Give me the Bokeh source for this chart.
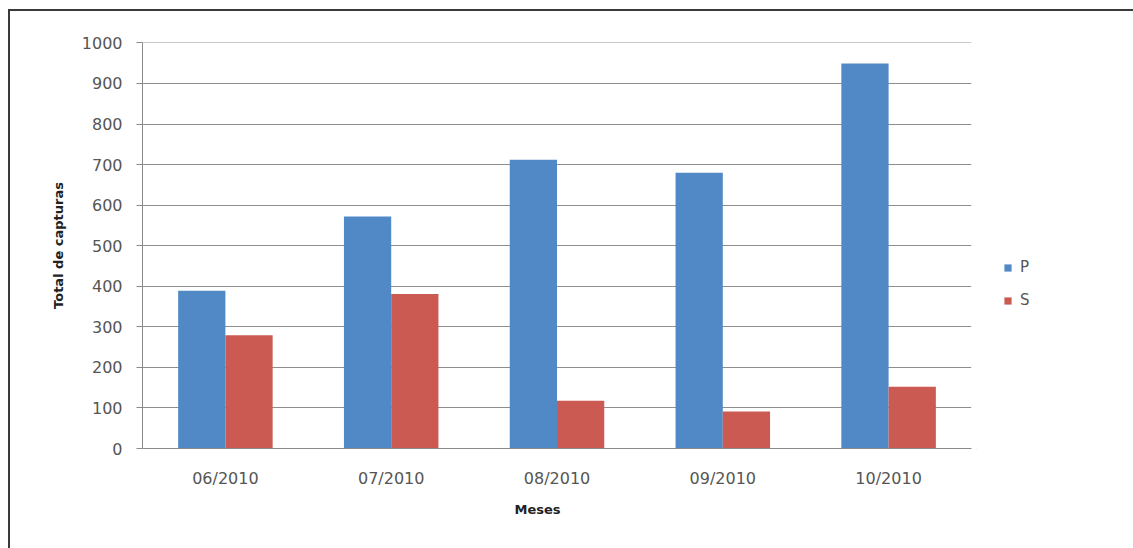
from bokeh.plotting import figure
from bokeh.layouts import row
from bokeh.models import (ColumnDataSource, FactorRange, Range1d, Legend, LegendItem,
                          SingleIntervalTicker, Title)
from bokeh.transform import dodge
from bokeh.embed import file_html
from bokeh.resources import INLINE

# Monthly capture totals
meses = ["06/2010", "07/2010", "08/2010", "09/2010", "10/2010"]
serie_p = [389, 572, 712, 680, 949]
serie_s = [279, 381, 118, 91, 152]
series = ["P", "S"]

FONT = "DejaVu Sans"
BLUE = "#5189C6"
RED = "#CB5A52"
COLORS = [BLUE, RED]

src = ColumnDataSource(dict(mes=meses, p=serie_p, s=serie_s))

# the chart sits inside a framed box offset from the page corner
OFF_X, OFF_Y = 10, 11
TOTAL_W, TOTAL_H = 1133, 548
CHART_W = 976 - OFF_X
H = TOTAL_H - OFF_Y

p = figure(width=CHART_W, height=H,
           x_range=FactorRange(*meses), y_range=Range1d(0, 1001),
           output_backend="svg", toolbar_location=None,
           min_border_left=142 - OFF_X, min_border_right=5,
           min_border_top=42 - OFF_Y, min_border_bottom=100)
p.outline_line_color = None
p.background_fill_color = "white"
p.border_fill_color = "white"

bw = 0.285
p.vbar(x=dodge("mes", -bw / 2, range=p.x_range), top="p", width=bw, source=src,
       fill_color=BLUE, line_color=None)
p.vbar(x=dodge("mes", bw / 2, range=p.x_range), top="s", width=bw, source=src,
       fill_color=RED, line_color=None)

# grid
p.xgrid.grid_line_color = None
p.ygrid.grid_line_color = "#8E8E8E"
p.ygrid.grid_line_width = 1
p.yaxis.ticker = SingleIntervalTicker(interval=100)

# axes
for ax in (p.xaxis[0], p.yaxis[0]):
    ax.axis_line_color = "#8A8A8A"
    ax.major_label_text_font = FONT
    ax.major_label_text_font_size = "16px"
    ax.major_label_text_color = "#555555"
    ax.axis_label_text_font = FONT
    ax.axis_label_text_font_size = "13px"
    ax.axis_label_text_font_style = "bold"
    ax.axis_label_text_color = "#222222"
    ax.minor_tick_line_color = None

p.yaxis.major_tick_line_color = "#8A8A8A"
p.yaxis.major_tick_out = 6
p.yaxis.major_tick_in = 0
p.yaxis.major_label_standoff = 14
p.yaxis.axis_label = "Total de capturas"
p.yaxis.axis_label_standoff = 13

p.xaxis.major_tick_line_color = None
p.xaxis.major_label_standoff = 14

# x-axis title, set a little left of the plot centre
p.add_layout(Title(text="Meses", align="left", offset=372, standoff=18,
                   text_font=FONT, text_font_size="13px", text_font_style="bold",
                   text_color="#222222"), "below")

# legend panel to the right of the plot area
LEG_W = TOTAL_W - 976
lg = figure(width=LEG_W, height=H, x_range=Range1d(0, 1), y_range=Range1d(0, 1),
            output_backend="svg", toolbar_location=None,
            min_border=0, outline_line_color=None)
lg.axis.visible = False
lg.grid.visible = False
lg.background_fill_color = "white"
lg.border_fill_color = "white"

items = []
for name, col in zip(series, COLORS):
    r = lg.vbar(x=[-5], top=[-5], width=0.1, fill_color=col, line_color=None)
    items.append(LegendItem(label=name, renderers=[r]))

legend = Legend(items=items, location=(27, 139), orientation="vertical",
                glyph_width=9, glyph_height=9, label_height=14, spacing=15,
                label_text_font=FONT, label_text_font_size="15px", label_text_color="#555555",
                border_line_color=None, background_fill_alpha=0, padding=0, margin=0,
                label_standoff=8)
lg.add_layout(legend, "center")

page = row(p, lg, spacing=0)
page.margin = (OFF_Y - 2, 0, 0, OFF_X - 2)
page.styles = {"border-left": "2px solid #3A3A3A", "border-top": "2px solid #3A3A3A"}

open("out.html", "w").write(file_html(page, INLINE))
